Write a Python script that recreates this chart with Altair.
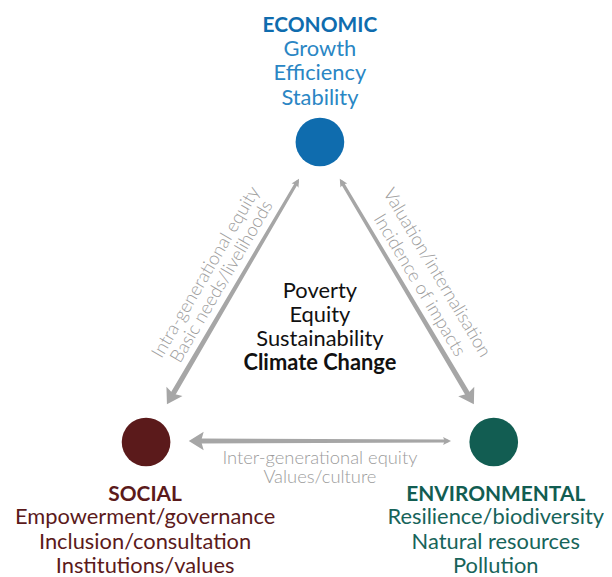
import math
import altair as alt
import pandas as pd

# ---------------- data ----------------
# pillars (nodes)
node_names = ["ECONOMIC", "SOCIAL", "ENVIRONMENTAL"]
node_x = [322, 147, 497]
node_y = [141, 443, 443]
node_colors = ["#0f6cae", "#5b1a1b", "#125d52"]
sub_colors = ["#2a86c4", "#5b1a1b", "#17645a"]
node_diam = 49

head_x = [322, 146, 499]
head_y = [30, 502, 502]
sub_lines = [
    ["Growth", "Efficiency", "Stability"],
    ["Empowerment/governance", "Inclusion/consultation", "Institutions/values"],
    ["Resilience/biodiversity", "Natural resources", "Pollution"],
]
sub_y = [[54.5, 79, 103.5], [526, 550.5, 574.5], [526, 550.5, 574.5]]

# centre words
centre_lines = ["Poverty", "Equity", "Sustainability"]
centre_bold = "Climate Change"
centre_x = 322
centre_y = [298, 322.5, 346.5]
centre_bold_y = 370.5

# arrows: big head tip, small head tip
arrow_names = ["econ-social", "econ-env", "env-social"]
big_tip_x = [168, 477, 190]
big_tip_y = [405, 405, 442]
small_tip_x = [301, 342, 454]
small_tip_y = [178, 178, 442]

# arrow labels (centres) and text
arrow_labels = [
    "Intra-generational equity", "Basic needs/livelihoods",
    "Valuation/internalisation", "Incidence of impacts",
    "Inter-generational equity", "Values/culture",
]
label_arrow = [0, 0, 1, 1, 2, 2]
label_cx = [207, 223, 440, 422.5, 322, 322]
label_cy = [272, 281.5, 272.5, 285, 459.5, 478.5]

GRAY = "#a6a6a6"
GRAY_TXT = "#9c9c9c"
FONT = "Lato"

# ---------------- build tables ----------------
def angle_of(dx, dy):
    return math.degrees(math.atan2(dx, -dy)) % 360

trail_rows, big_rows, small_rows = [], [], []
for i, name in enumerate(arrow_names):
    bx, by = big_tip_x[i], big_tip_y[i]
    sx, sy = small_tip_x[i], small_tip_y[i]
    dx, dy = bx - sx, by - sy
    L = math.hypot(dx, dy)
    ux, uy = dx / L, dy / L
    ex, ey = bx - ux * 11, by - uy * 11
    trail_rows.append(dict(arrow=name, o=0, x=sx + ux * 4, y=sy + uy * 4, w=3.2))
    trail_rows.append(dict(arrow=name, o=1, x=ex, y=ey, w=5.2))
    big_rows.append(dict(x=bx, y=by, ang=angle_of(dx, dy)))
    small_rows.append(dict(x=sx, y=sy, ang=angle_of(-dx, -dy)))

trail_df = pd.DataFrame(trail_rows)
big_df = pd.DataFrame(big_rows)
small_df = pd.DataFrame(small_rows)

node_df = pd.DataFrame(dict(x=node_x, y=node_y, c=node_colors, name=node_names))

head_df = pd.DataFrame([dict(x=head_x[i], y=head_y[i], t=node_names[i], c=node_colors[i])
                        for i in range(3)])
cc_df = pd.DataFrame([dict(x=centre_x, y=centre_bold_y, t=centre_bold, c="#111111")])

reg_rows = []
for i in range(3):
    for j, s in enumerate(sub_lines[i]):
        reg_rows.append(dict(x=head_x[i], y=sub_y[i][j], t=s, c=sub_colors[i]))
for j, s in enumerate(centre_lines):
    reg_rows.append(dict(x=centre_x, y=centre_y[j], t=s, c="#111111"))
reg_df = pd.DataFrame(reg_rows)

lab_rows = []
for k, t in enumerate(arrow_labels):
    i = label_arrow[k]
    dx = big_tip_x[i] - small_tip_x[i]
    dy = big_tip_y[i] - small_tip_y[i]
    if dx < 0:
        dx, dy = -dx, -dy
    ang = math.degrees(math.atan2(dy, dx)) % 360
    lab_rows.append(dict(x=label_cx[k], y=label_cy[k], t=t, ang=ang))
lab_df = pd.DataFrame(lab_rows)

# ---------------- chart ----------------
W, H = 600, 569
xs = alt.Scale(domain=[8, 8 + W], nice=False, zero=False)
ys = alt.Scale(domain=[8, 8 + H], nice=False, zero=False, reverse=True)
X = lambda: alt.X("x:Q", scale=xs, axis=None)
Y = lambda: alt.Y("y:Q", scale=ys, axis=None)

trail = alt.Chart(trail_df).mark_trail(color=GRAY).encode(
    x=X(), y=Y(), detail="arrow:N", order="o:Q",
    size=alt.Size("w:Q", scale=None, legend=None),
)

head_path = "M0,0 L1.25,2 L0,1.65 L-1.25,2 Z"
big_heads = alt.Chart(big_df).mark_point(
    shape=head_path, filled=True, color=GRAY, opacity=1, size=225, strokeWidth=0
).encode(x=X(), y=Y(), angle=alt.Angle("ang:Q", scale=None))

small_path = "M0,0 L1,2 L0,1.6 L-1,2 Z"
small_heads = alt.Chart(small_df).mark_point(
    shape=small_path, filled=True, color=GRAY, opacity=1, size=64, strokeWidth=0
).encode(x=X(), y=Y(), angle=alt.Angle("ang:Q", scale=None))

nodes = alt.Chart(node_df).mark_circle(size=node_diam ** 2, opacity=1).encode(
    x=X(), y=Y(), color=alt.Color("c:N", scale=None)
)

head_text = alt.Chart(head_df).mark_text(
    font=FONT, fontWeight="bold", fontSize=21, align="center", baseline="alphabetic"
).encode(x=X(), y=Y(), text="t:N", color=alt.Color("c:N", scale=None))

cc_text = alt.Chart(cc_df).mark_text(
    font=FONT, fontWeight="bold", fontSize=22, align="center", baseline="alphabetic"
).encode(x=X(), y=Y(), text="t:N", color=alt.Color("c:N", scale=None))

reg_text = alt.Chart(reg_df).mark_text(
    font=FONT, fontSize=22, align="center", baseline="alphabetic"
).encode(x=X(), y=Y(), text="t:N", color=alt.Color("c:N", scale=None))

lab_text = alt.Chart(lab_df).mark_text(
    font=FONT, fontWeight=300, fontSize=18.5, align="center", baseline="middle",
    color=GRAY_TXT,
).encode(x=X(), y=Y(), text="t:N", angle=alt.Angle("ang:Q", scale=None))

chart = alt.layer(trail, big_heads, small_heads, nodes, lab_text, reg_text,
                  head_text, cc_text).properties(
    width=W, height=H, autosize=alt.AutoSizeParams(type="none"), padding=0,
    background="white",
).configure_view(stroke=None)

chart.save("out.html", embed_options={"renderer": "svg", "actions": False})
